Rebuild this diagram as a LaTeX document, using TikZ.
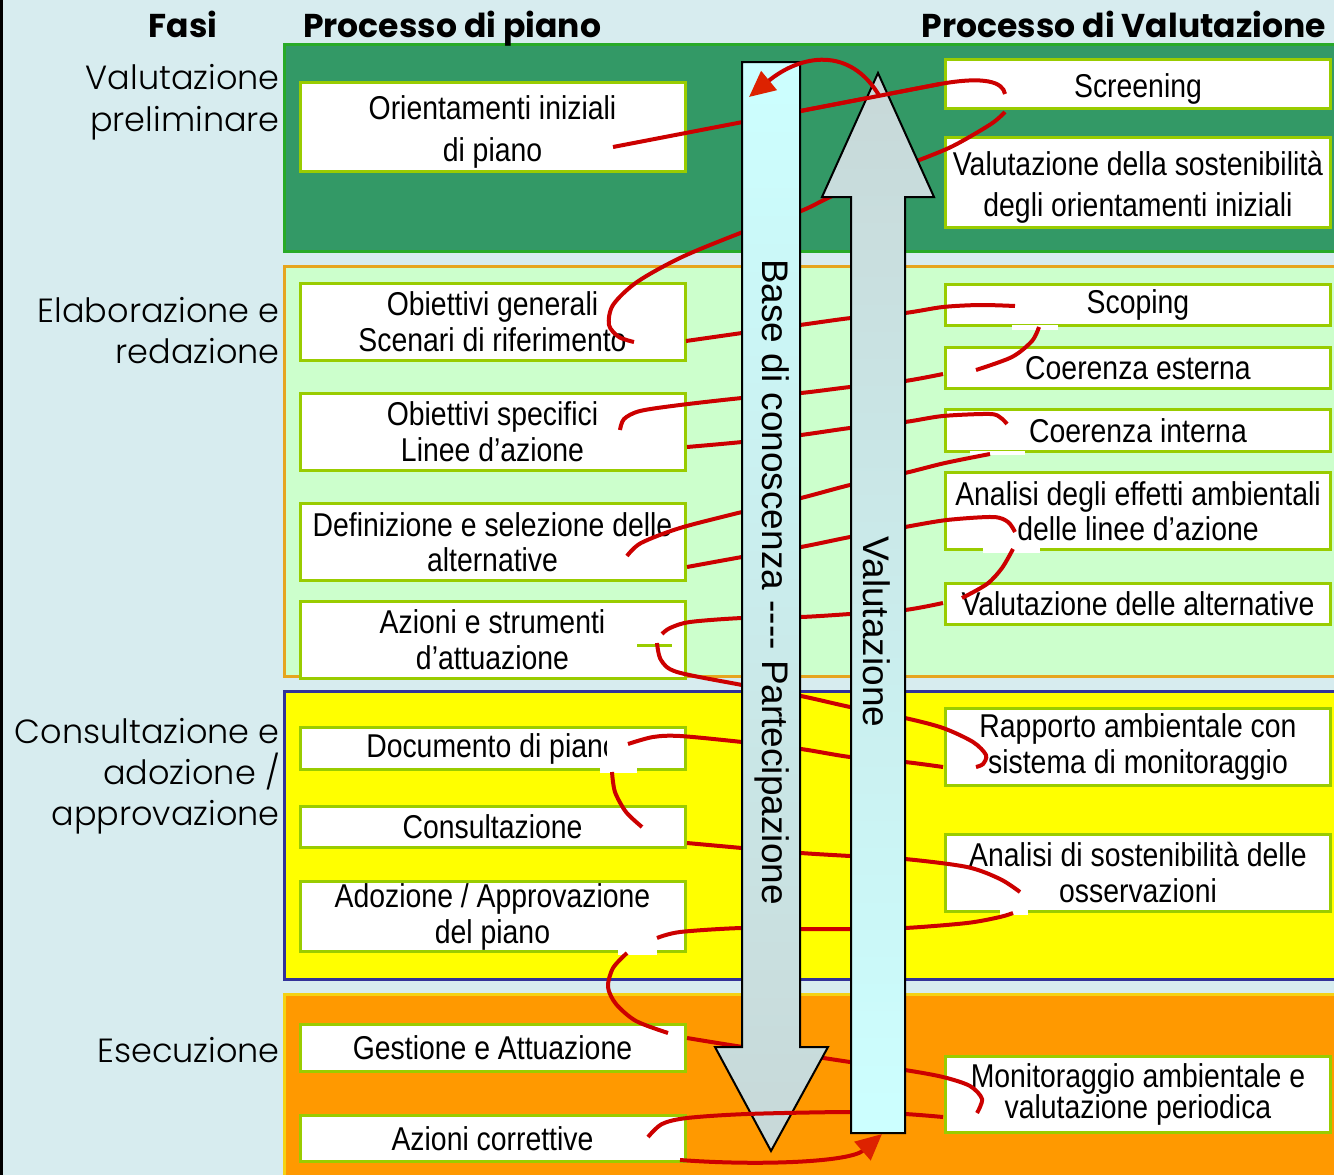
\documentclass[tikz,border=0pt]{standalone}
\usepackage{fontspec}
\usetikzlibrary{arrows.meta}
\newfontfamily\boxfont[FakeStretch=0.86]{Liberation Sans}
\newfontfamily\colfont{Liberation Sans}
\newfontfamily\labfont{Poppins Light}
\newfontfamily\headfont{Poppins}
\definecolor{bgc}{RGB}{215,236,239}
\definecolor{dgreen}{RGB}{51,153,102}
\definecolor{dgreenb}{RGB}{40,170,40}
\definecolor{lgreen}{RGB}{204,255,204}
\definecolor{lgreenb}{RGB}{230,165,30}
\definecolor{yel}{RGB}{255,255,0}
\definecolor{yelb}{RGB}{51,51,153}
\definecolor{ora}{RGB}{255,153,0}
\definecolor{orab}{RGB}{245,210,20}
\definecolor{boxb}{RGB}{153,204,0}
\definecolor{redl}{RGB}{204,0,0}
\definecolor{tipred}{RGB}{221,34,0}
\definecolor{colcyan}{RGB}{204,255,255}
\definecolor{colgray}{RGB}{200,216,216}
\begin{document}
\begin{tikzpicture}[x=1pt,y=-1pt,
  pbox/.style={draw=boxb,line width=3pt,fill=white,inner sep=0pt,align=center,minimum width=385pt},
  boxtxt/.style={font=\boxfont\fontsize{33}{#1}\selectfont},
  lab/.style={font=\labfont\fontsize{33.5}{38}\selectfont,inner sep=0pt,anchor=base east},
  head/.style={font=\headfont\bfseries\fontsize{33}{38}\selectfont,inner sep=0pt},
  rline/.style={draw=redl,line width=4pt},
  halo/.style={fill=white,draw=none},
  coltxt/.style={font=\colfont\fontsize{37}{40}\selectfont,rotate=-90,inner sep=0pt}]
\useasboundingbox (0,0) rectangle (1334,1175);
\fill[bgc] (0,0) rectangle (1334,1175);
\fill[black] (0,0) rectangle (3,1175);
% bands
\draw[fill=dgreen,draw=dgreenb,line width=3pt] (284,44) rectangle (1345,251);
\draw[fill=lgreen,draw=lgreenb,line width=3pt] (284,266) rectangle (1345,676);
\draw[fill=yel,draw=yelb,line width=3pt] (284,691) rectangle (1345,979);
\draw[fill=ora,draw=orab,line width=3pt] (284,994) rectangle (1345,1190);
% headers
\node[head,anchor=base] (hfasi) at (183,37) {Fasi};
\node[head,anchor=base west] (hpiano) at (303,37) {Processo di piano};
\node[head,anchor=base east] (hval) at (1326,37) {Processo di Valutazione};
% phase labels
\node[lab] (f1a) at (280,89) {Valutazione};
\node[lab] (f1b) at (280,131) {preliminare};
\node[lab] (f2a) at (280,322) {Elaborazione e};
\node[lab] (f2b) at (280,363) {redazione};
\node[lab] (f3a) at (280,743) {Consultazione e};
\node[lab] (f3b) at (280,784) {adozione /};
\node[lab] (f3c) at (280,825) {approvazione};
\node[lab] (f4) at (280,1062) {Esecuzione};
% left boxes
\node[pbox,boxtxt=42,minimum height=89pt] (L1) at (492.5,127) {\rule{0pt}{33pt}Orientamenti iniziali\\di piano};
\node[pbox,boxtxt=36,minimum height=77pt] (L2) at (492.5,322) {Obiettivi generali\\Scenari di riferimento};
\node[pbox,boxtxt=36,minimum height=77pt] (L3) at (492.5,432) {Obiettivi specifici\\Linee d’azione};
\node[pbox,boxtxt=35,minimum height=77pt] (L4) at (492.5,542) {Definizione e selezione delle\\alternative};
\node[pbox,boxtxt=36,minimum height=77pt] (L5) at (492.5,640) {Azioni e strumenti\\d’attuazione};
\node[pbox,boxtxt=36,minimum height=42pt] (L6) at (492.5,748.5) {Documento di piano};
\node[pbox,boxtxt=36,minimum height=41pt] (L7) at (492.5,827) {Consultazione};
\node[pbox,boxtxt=36,minimum height=70pt] (L8) at (492.5,916.5) {Adozione / Approvazione\\del piano};
\node[pbox,boxtxt=36,minimum height=47pt] (L9) at (492.5,1048) {Gestione e Attuazione};
\node[pbox,boxtxt=36,minimum height=46pt] (L10) at (492.5,1138.5) {Azioni correttive};
% right boxes
\node[pbox,boxtxt=36,minimum height=49pt] (R1) at (1138,84) {\rule{0pt}{33pt}Screening};
\node[pbox,boxtxt=41,minimum height=90pt] (R2) at (1138,182.5) {\rule{0pt}{33pt}Valutazione della sostenibilità\\degli orientamenti iniziali};
\node[pbox,boxtxt=36,minimum height=41pt] (R3) at (1138,305) {Scoping};
\node[pbox,boxtxt=36,minimum height=41pt] (R4) at (1138,368) {Coerenza esterna};
\node[pbox,boxtxt=36,minimum height=42pt] (R5) at (1138,430.5) {Coerenza interna};
\node[pbox,boxtxt=35,minimum height=77pt] (R6) at (1138,511) {Analisi degli effetti ambientali\\delle linee d’azione};
\node[pbox,boxtxt=36,minimum height=41pt] (R7) at (1138,604) {Valutazione delle alternative};
\node[pbox,boxtxt=36,minimum height=77pt] (R8) at (1138,747) {Rapporto ambientale con\\sistema di monitoraggio};
\node[pbox,boxtxt=36,minimum height=77pt] (R9) at (1138,873) {Analisi di sostenibilità delle\\osservazioni};
\node[pbox,boxtxt=29,minimum height=76pt] (R10) at (1138,1094.5) {Monitoraggio ambientale e\\valutazione periodica};
% white halos
\fill[halo] (607,736) rectangle (627,764);
\fill[halo] (600,767) rectangle (637,773);
\fill[halo] (618,949) rectangle (657,955);
\fill[halo] (1012,325) rectangle (1058,330);
\fill[halo] (970,451) rectangle (1025,455);
\fill[halo] (983,548) rectangle (1040,553);
\fill[halo] (1000,910) rectangle (1028,915);
\draw[boxb,line width=3pt] (637,645) -- (672,645);
% spiral, behind the columns
\draw[rline] (613,147) -- (940,84) .. controls (985,76) and (1003,82) .. (1005,94);
\draw[rline] plot[smooth] coordinates {(1005,112) (991,124) (953,146) (917,161) (870,180) (830,197) (801,211) (743,232) (682,257) (637,282) (613,305) (609,325) (619,337) (634,342)};
\draw[rline] plot[smooth] coordinates {(686,341) (742,333) (800,325) (851,318) (905,313) (943,307) (980,305) (1015,306)};
\draw[rline] plot[smooth] coordinates {(1039,327) (1032,341) (1012,357) (976,370)};
\draw[rline] plot[smooth] coordinates {(943,374) (905,381) (850,387) (801,393) (742,398) (680,405) (640,411) (624,419) (620,430)};
\draw[rline] plot[smooth] coordinates {(687,447) (742,442) (801,435) (850,428) (905,422) (943,416) (990,414) (1001,418) (1007,424)};
\draw[rline] plot[smooth] coordinates {(990,454) (945,463) (905,473) (850,485) (801,498) (742,512) (680,528) (641,543) (627,556)};
\draw[rline] plot[smooth] coordinates {(687,567) (742,557) (801,547) (850,537) (905,527) (947,520) (993,517) (1008,522) (1015,532)};
\draw[rline] plot[smooth] coordinates {(1013,549) (1002,568) (987,584) (962,598)};
\draw[rline] plot[smooth] coordinates {(943,603) (905,610) (850,614) (801,617) (742,618) (690,622) (670,628) (662,634)};
\draw[rline] plot[smooth] coordinates {(657,643) (661,660) (677,672) (742,685) (801,696) (850,707) (905,718) (943,728) (973,742) (986,755) (983,764) (976,767)};
\draw[rline] plot[smooth] coordinates {(943,767) (905,762) (850,757) (801,749) (742,742) (680,736) (653,737) (628,744)};
\draw[rline] plot[smooth] coordinates {(612,772) (615,792) (626,812) (642,827)};
\draw[rline] plot[smooth] coordinates {(687,843) (742,848) (801,853) (850,856) (905,859) (967,867) (1000,879) (1020,892)};
\draw[rline] plot[smooth] coordinates {(1013,913) (1000,917) (967,923) (905,928) (850,929) (801,929) (742,928) (680,932) (657,938)};
\draw[rline] plot[smooth] coordinates {(627,953) (613,968) (608,987) (616,1004) (636,1021) (668,1033)};
\draw[rline] plot[smooth] coordinates {(687,1038) (743,1047) (790,1053) (850,1062) (905,1070) (943,1077) (970,1086) (982,1099) (977,1113)};
% Base column arrow
\shade[top color=colcyan,bottom color=colgray,draw=black,line width=2pt]
  (742,62) -- (800,62) -- (800,1047) -- (828,1047) -- (771,1151) -- (715,1047) -- (742,1047) -- cycle;
\draw[rline] plot[smooth] coordinates {(648,1137) (662,1124) (687,1118) (747,1114) (850,1112) (905,1114) (943,1117)};
% Valutazione arrow
\shade[top color=colgray,bottom color=colcyan,draw=black,line width=2pt]
  (851,1133) -- (905,1133) -- (905,197) -- (934,197) -- (878,73) -- (822,197) -- (851,197) -- cycle;
\node[coltxt] (basetxt) at (772,582) {Base di conoscenza -{}-{}-{}- Partecipazione};
\node[coltxt] (valtxt) at (877,632) {Valutazione};
% front pieces
\draw[rline] (801,111) -- (940,84);
\draw[rline,-{Triangle[length=26pt,width=24pt,color=tipred]}] (880,97) .. controls (850,45) and (800,55) .. (749,97);
\draw[rline,-{Triangle[length=26pt,width=24pt,color=tipred]}] (680,1160) .. controls (760,1166) and (850,1162) .. (882,1134);
\end{tikzpicture}
\end{document}
